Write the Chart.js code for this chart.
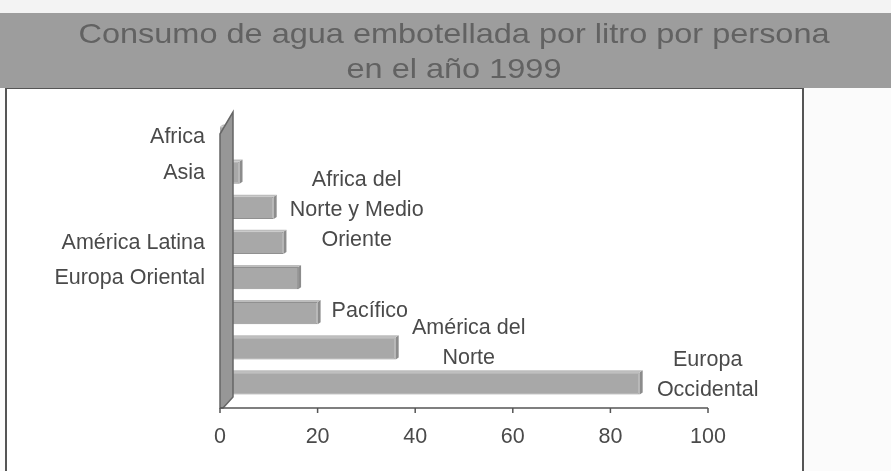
<!DOCTYPE html>
<html>
<head>
<meta charset="utf-8">
<title>Consumo de agua embotellada</title>
<script src="https://cdn.jsdelivr.net/npm/chart.js@4.4.1/dist/chart.umd.min.js"></script>
<style>
  html, body { margin: 0; padding: 0; background: #f6f6f6; }
  #wrap { width: 891px; height: 471px; }
</style>
</head>
<body>
<div id="wrap"><canvas id="chart" width="891" height="471"></canvas></div>
<script>
// Chart data
const titleLines = ['Consumo de agua embotellada por litro por persona', 'en el año 1999'];
const regions = [
    'Africa',
    'Asia',
    'Africa del Norte y Medio Oriente',
    'América Latina',
    'Europa Oriental',
    'Pacífico',
    'América del Norte',
    'Europa Occidental'
];
const litres = [1, 4, 11, 13, 16, 20, 36, 86];
const valueTicks = [0, 20, 40, 60, 80, 100];

// Some regions are written beside their bar instead of on the axis
const barLabels = {
    2: ['Africa del', 'Norte y Medio', 'Oriente'],
    5: ['Pacífico'],
    6: ['América del', 'Norte'],
    7: ['Europa', 'Occidental']
};
// where those labels sit relative to the bar end (first line), px
const barLabelOffsets = {
    2: { dx: 83, dy: -28, align: 'center' },
    5: { dx: 14, dy: -2, align: 'left' },
    6: { dx: 73, dy: -20, align: 'center' },
    7: { dx: 68, dy: -23, align: 'center' }
};

const FONT = '"Liberation Sans", Arial, sans-serif';
const TEXT_COLOR = '#4a4a4a';
const DEPTH = 13; // fake 3D depth of wall and floor

// Header band, title and the framed plot box
const framePlugin = {
    id: 'frame',
    beforeDraw(chart) {
        const ctx = chart.ctx;
        const w = chart.width;
        ctx.save();
        ctx.fillStyle = '#f3f3f3';
        ctx.fillRect(0, 0, w, 13);
        ctx.fillStyle = '#fbfbfb';
        ctx.fillRect(0, 88, w, chart.height - 88);

        // plot box
        ctx.fillStyle = '#ffffff';
        ctx.fillRect(6, 88, 797, chart.height);
        ctx.strokeStyle = '#555555';
        ctx.lineWidth = 2;
        ctx.strokeRect(6, 88, 797, chart.height + 10);

        // grey header band
        ctx.fillStyle = '#9d9d9d';
        ctx.fillRect(0, 13, w, 75);

        // title, a little wider than the plain font
        ctx.fillStyle = '#626262';
        ctx.font = '28px ' + FONT;
        ctx.textAlign = 'center';
        ctx.textBaseline = 'alphabetic';
        titleLines.forEach((line, i) => {
            ctx.save();
            ctx.translate(454, 43 + i * 35);
            ctx.scale(1.16, 1);
            ctx.fillText(line, 0, 0);
            ctx.restore();
        });
        ctx.restore();
    }
};

// 3D touches: bar end faces, the back wall, the floor edge and the side labels
const depthPlugin = {
    id: 'depth',
    afterDatasetsDraw(chart) {
        const ctx = chart.ctx;
        const xScale = chart.scales.x;
        const area = chart.chartArea;
        const bars = chart.getDatasetMeta(0).data;
        ctx.save();

        // end face of each bar
        bars.forEach(bar => {
            const top = bar.y - bar.height / 2;
            const bottom = bar.y + bar.height / 2;
            ctx.fillStyle = '#8c8c8c';
            ctx.beginPath();
            ctx.moveTo(bar.x, top);
            ctx.lineTo(bar.x + 3, top - 2);
            ctx.lineTo(bar.x + 3, bottom - 2);
            ctx.lineTo(bar.x, bottom);
            ctx.closePath();
            ctx.fill();
            ctx.fillStyle = '#bdbdbd';
            ctx.beginPath();
            ctx.moveTo(bar.base, top);
            ctx.lineTo(bar.base + 3, top - 2);
            ctx.lineTo(bar.x + 3, top - 2);
            ctx.lineTo(bar.x, top);
            ctx.closePath();
            ctx.fill();
        });

        // back wall
        const x0 = xScale.getPixelForValue(0);
        const wallTop = area.top - 8;
        const floorY = area.bottom + 7;
        ctx.fillStyle = '#979797';
        ctx.strokeStyle = '#666666';
        ctx.lineWidth = 1.5;
        ctx.beginPath();
        ctx.moveTo(x0, wallTop + 22);
        ctx.lineTo(x0 + DEPTH, wallTop);
        ctx.lineTo(x0 + DEPTH, floorY - 11);
        ctx.lineTo(x0 + 3, floorY);
        ctx.lineTo(x0, floorY);
        ctx.closePath();
        ctx.fill();
        ctx.stroke();

        // floor edge with tick marks
        const xEnd = xScale.getPixelForValue(100);
        ctx.strokeStyle = '#555555';
        ctx.lineWidth = 1.5;
        ctx.beginPath();
        ctx.moveTo(x0, floorY);
        ctx.lineTo(xEnd, floorY);
        valueTicks.forEach(v => {
            const px = xScale.getPixelForValue(v);
            ctx.moveTo(px, floorY);
            ctx.lineTo(px, floorY + 5);
        });
        ctx.stroke();

        // labels written next to the bars
        ctx.fillStyle = TEXT_COLOR;
        ctx.font = '21.5px ' + FONT;
        ctx.textBaseline = 'middle';
        Object.keys(barLabels).forEach(key => {
            const i = Number(key);
            const bar = bars[i];
            const off = barLabelOffsets[i];
            ctx.textAlign = off.align;
            barLabels[i].forEach((line, j) => {
                ctx.fillText(line, bar.x + off.dx, bar.y + off.dy + j * 30);
            });
        });
        ctx.restore();
    }
};

new Chart(document.getElementById('chart'), {
    type: 'bar',
    data: {
        labels: regions,
        datasets: [{
            data: litres,
            backgroundColor: '#a8a8a8',
            borderColor: '#909090',
            borderWidth: 1,
            categoryPercentage: 1,
            barPercentage: 0.63
        }]
    },
    options: {
        indexAxis: 'y',
        responsive: false,
        animation: false,
        layout: { padding: { left: 0, right: 183, top: 120, bottom: 0 } },
        plugins: {
            legend: { display: false },
            tooltip: { enabled: false },
            title: { display: false }
        },
        scales: {
            x: {
                type: 'linear',
                min: 0,
                max: 100,
                grid: { display: false, drawTicks: false },
                border: { display: false },
                afterBuildTicks: scale => {
                    scale.ticks = valueTicks.map(v => ({ value: v }));
                },
                afterFit: scale => { scale.height = 70; },
                ticks: {
                    padding: 23,
                    color: TEXT_COLOR,
                    font: { family: FONT, size: 21.5 }
                }
            },
            y: {
                type: 'category',
                grid: { display: false, drawTicks: false },
                border: { display: false },
                afterFit: scale => { scale.width = 220; },
                ticks: {
                    padding: 15,
                    color: TEXT_COLOR,
                    font: { family: FONT, size: 21.5 },
                    callback: (value, index) => (barLabels[index] ? '' : regions[index])
                }
            }
        }
    },
    plugins: [framePlugin, depthPlugin]
});
</script>
</body>
</html>
